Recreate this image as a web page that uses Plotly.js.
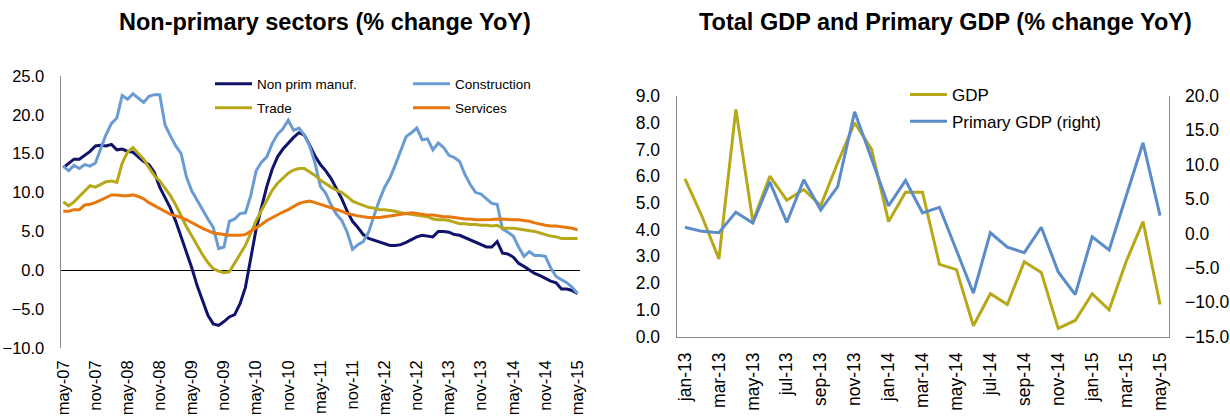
<!DOCTYPE html>
<html>
<head>
<meta charset="utf-8">
<script src="https://cdn.plot.ly/plotly-3.0.1.min.js"></script>
<style>
html,body{margin:0;padding:0;background:#fff;}
#chart{width:1230px;height:417px;}
</style>
</head>
<body>
<div id="chart"></div>
<script>
// ---------- Left chart: monthly, may-07 .. may-15 ----------
const monthNames = ['jan','feb','mar','apr','may','jun','jul','aug','sep','oct','nov','dec'];
function monthRange(startYear, startMonth, count) {
  const out = [];
  for (let k = 0; k < count; k++) {
    const m = (startMonth + k) % 12;
    const y = startYear + Math.floor((startMonth + k) / 12);
    out.push(monthNames[m] + '-' + String(y % 100).padStart(2, '0'));
  }
  return out;
}
const leftMonths = monthRange(2007, 4, 97);
const leftTicks = ['may-07','nov-07','may-08','nov-08','may-09','nov-09','may-10','nov-10','may-11','nov-11','may-12','nov-12','may-13','nov-13','may-14','nov-14','may-15'];

const nonPrimManuf = [13.2,13.8,14.3,14.3,14.8,15.3,16.0,16.1,16.0,16.2,15.5,15.6,15.3,15.2,14.6,14.0,13.6,12.6,10.7,9.3,
  8.0,6.3,4.3,2.2,0.3,-2.0,-4.0,-5.8,-6.9,-7.1,-6.6,-6.0,-5.7,-4.3,-2.2,1.8,5.3,8.1,10.8,13.0,
  14.6,15.6,16.4,17.1,17.7,17.4,16.1,14.7,13.6,12.8,11.8,10.5,9.2,7.6,6.3,5.5,4.6,4.1,3.9,3.6,
  3.4,3.2,3.2,3.3,3.6,4.0,4.3,4.5,4.4,4.3,5.0,5.0,4.9,4.6,4.5,4.2,3.9,3.7,3.4,3.0,
  3.0,3.7,2.2,2.1,1.7,0.9,0.5,0.0,-0.4,-0.7,-1.1,-1.4,-1.6,-2.4,-2.4,-2.6,-3.0];
const construction = [13.4,12.8,13.5,13.1,13.6,13.4,13.8,15.6,17.5,18.9,19.6,22.5,22.0,22.7,22.1,21.6,22.4,22.6,22.6,18.7,
  17.3,16.0,15.0,12.0,10.2,9.0,7.7,6.6,5.5,2.8,3.0,6.3,6.6,7.3,7.4,9.6,12.8,13.9,14.6,16.3,
  17.5,18.2,19.3,18.0,18.3,17.4,16.0,13.8,10.8,9.9,8.4,7.2,6.4,4.9,2.7,3.3,3.7,4.9,7.0,9.0,
  10.7,11.9,13.6,15.5,17.2,17.7,18.3,16.8,16.9,15.5,16.4,15.8,14.8,14.5,14.0,12.3,11.0,10.0,9.8,9.2,
  8.6,8.5,5.3,4.9,4.4,3.0,1.8,2.4,1.9,1.9,1.8,0.3,-0.8,-1.2,-1.6,-2.2,-3.0];
const trade = [8.8,8.3,8.8,9.5,10.1,10.9,10.7,11.1,11.4,11.5,11.3,13.8,15.2,15.8,15.1,14.3,13.2,12.2,11.5,10.6,
  9.6,8.4,6.9,5.6,4.4,3.1,2.0,1.0,0.2,-0.1,-0.3,-0.2,0.9,2.0,3.2,4.8,6.4,7.7,9.1,10.3,
  11.2,11.9,12.5,12.9,13.1,13.1,12.7,12.2,11.6,11.1,10.7,10.3,10.0,9.5,8.9,8.6,8.3,8.1,8.0,7.8,
  7.8,7.7,7.6,7.4,7.3,7.2,7.1,7.0,6.9,6.6,6.5,6.5,6.4,6.2,6.0,6.0,5.9,5.9,5.8,5.8,
  5.7,5.8,5.4,5.4,5.4,5.3,5.2,5.1,5.0,4.8,4.6,4.4,4.3,4.1,4.1,4.1,4.1];
const services = [7.6,7.6,7.8,7.8,8.4,8.5,8.7,9.0,9.4,9.7,9.7,9.6,9.6,9.7,9.5,9.2,8.7,8.3,7.9,7.5,
  7.2,7.0,6.8,6.5,6.1,5.7,5.4,5.1,4.8,4.7,4.6,4.5,4.5,4.5,4.6,5.0,5.4,5.9,6.4,6.8,
  7.1,7.5,7.8,8.2,8.6,8.8,8.9,8.7,8.5,8.3,8.1,7.8,7.6,7.3,7.1,7.0,6.9,6.8,6.8,6.8,
  6.9,7.0,7.1,7.2,7.3,7.4,7.3,7.2,7.1,7.1,7.0,6.9,6.9,6.8,6.7,6.6,6.6,6.5,6.5,6.5,
  6.55,6.6,6.55,6.55,6.5,6.5,6.4,6.3,6.1,5.9,5.8,5.7,5.7,5.6,5.5,5.4,5.2];

// ---------- Right chart: monthly, jan-13 .. may-15 ----------
const rightMonths = monthRange(2013, 0, 29);
const rightTicks = ['jan-13','mar-13','may-13','jul-13','sep-13','nov-13','jan-14','mar-14','may-14','jul-14','sep-14','nov-14','jan-15','mar-15','may-15'];
const gdp = [5.9,4.5,2.9,8.5,4.3,6.0,5.1,5.5,4.9,6.5,8.0,7.0,4.3,5.4,5.4,2.7,2.5,0.4,1.6,1.2,2.8,2.4,0.3,0.6,1.6,1.0,2.8,4.3,1.2];
const primaryGdp = [0.9,0.3,0.1,3.1,1.5,7.5,1.6,7.8,3.4,6.8,17.7,10.7,4.0,7.7,3.0,3.8,-2.4,-8.7,0.1,-2.0,-2.8,0.9,-5.6,-8.9,-0.5,-2.4,5.4,13.2,2.6];

const FONT = '"Liberation Sans", Arial, sans-serif';
const NAVY = '#10126b', LBLUE = '#6a9bd2', OLIVE = '#b7a81a', ORANGE = '#e8780e', BLUE2 = '#5b8cc9';
const AXC = '#8a8a8a';
const W = 1230, H = 417;
const px = v => v / W, py = v => 1 - v / H;

const traces = [
  {x: leftMonths, y: nonPrimManuf, name: 'Non prim manuf.', type: 'scatter', mode: 'lines', line: {color: NAVY, width: 3}, xaxis: 'x', yaxis: 'y', legend: 'legend'},
  {x: leftMonths, y: construction, name: 'Construction', type: 'scatter', mode: 'lines', line: {color: LBLUE, width: 3}, xaxis: 'x', yaxis: 'y', legend: 'legend'},
  {x: leftMonths, y: trade, name: 'Trade', type: 'scatter', mode: 'lines', line: {color: OLIVE, width: 3}, xaxis: 'x', yaxis: 'y', legend: 'legend2'},
  {x: leftMonths, y: services, name: 'Services', type: 'scatter', mode: 'lines', line: {color: ORANGE, width: 3}, xaxis: 'x', yaxis: 'y', legend: 'legend2'},
  {x: rightMonths, y: gdp, name: 'GDP', type: 'scatter', mode: 'lines', line: {color: OLIVE, width: 3}, xaxis: 'x2', yaxis: 'y2', legend: 'legend3'},
  {x: rightMonths, y: primaryGdp, name: 'Primary GDP (right)', type: 'scatter', mode: 'lines', line: {color: BLUE2, width: 3}, xaxis: 'x2', yaxis: 'y3', legend: 'legend4'}
];

const legendBase = {orientation: 'h', bgcolor: 'rgba(0,0,0,0)', borderwidth: 0, xanchor: 'left', yanchor: 'middle',
  entrywidthmode: 'pixels', tracegroupgap: 0, traceorder: 'normal'};

const layout = {
  width: W, height: H,
  margin: {l: 0, r: 0, t: 0, b: 0},
  paper_bgcolor: '#ffffff', plot_bgcolor: 'rgba(0,0,0,0)',
  font: {family: FONT, color: '#000', size: 16},
  showlegend: true,
  xaxis: {domain: [px(60.6), px(580.2)], type: 'category', range: [-0.5, 96.5], anchor: 'y',
    tickmode: 'array', tickvals: leftTicks, ticktext: leftTicks, tickangle: -90,
    tickfont: {size: 16.5, family: FONT, color: '#000'}, showline: false, showgrid: false, zeroline: false, ticks: '',
    ticklabelstandoff: 8},
  yaxis: {domain: [py(348), py(76)], range: [-10, 25], dtick: 5, tick0: 0, tickformat: '.1f', anchor: 'x',
    tickfont: {size: 16.5, family: FONT, color: '#000'}, showline: true, linecolor: AXC, linewidth: 1,
    showgrid: false, zeroline: true, zerolinecolor: '#000', zerolinewidth: 1, ticks: '', ticklabelstandoff: 12},
  xaxis2: {domain: [px(676.5), px(1168.5)], type: 'category', range: [-0.5, 28.5], anchor: 'y2',
    tickmode: 'array', tickvals: rightTicks, ticktext: rightTicks, tickangle: -90,
    tickfont: {size: 17.5, family: FONT, color: '#000'}, showline: true, linecolor: AXC, linewidth: 1,
    showgrid: false, zeroline: false, ticks: '', ticklabelstandoff: 8},
  yaxis2: {domain: [py(336.5), py(96)], range: [0, 9], dtick: 1, tick0: 0, tickformat: '.1f', anchor: 'x2',
    tickfont: {size: 17.5, family: FONT, color: '#000'}, showline: true, linecolor: AXC, linewidth: 1,
    showgrid: false, zeroline: false, ticks: '', ticklabelstandoff: 12},
  yaxis3: {overlaying: 'y2', side: 'right', range: [-15, 20], dtick: 5, tick0: 0, tickformat: '.1f', anchor: 'x2',
    tickfont: {size: 17.5, family: FONT, color: '#000'}, showline: true, linecolor: AXC, linewidth: 1,
    showgrid: false, zeroline: false, ticks: '', ticklabelstandoff: 12},
  legend: Object.assign({}, legendBase, {x: px(210), y: py(84), entrywidth: 146, itemwidth: 37, font: {size: 13.5, family: FONT, color: '#000'}}),
  legend2: Object.assign({}, legendBase, {x: px(210), y: py(108), entrywidth: 146, itemwidth: 37, font: {size: 13.5, family: FONT, color: '#000'}}),
  legend3: Object.assign({}, legendBase, {x: px(905), y: py(95), entrywidth: 250, itemwidth: 37, font: {size: 17, family: FONT, color: '#000'}}),
  legend4: Object.assign({}, legendBase, {x: px(905), y: py(121.7), entrywidth: 250, itemwidth: 37, font: {size: 17, family: FONT, color: '#000'}}),
  annotations: [
    {text: '<b>Non-primary sectors (% change YoY)</b>', xref: 'paper', yref: 'paper', x: px(325), y: py(22),
      xanchor: 'center', yanchor: 'middle', showarrow: false, font: {size: 23.5, family: FONT, color: '#000'}},
    {text: '<b>Total GDP and Primary GDP (% change YoY)</b>', xref: 'paper', yref: 'paper', x: px(945), y: py(22),
      xanchor: 'center', yanchor: 'middle', showarrow: false, font: {size: 23.5, family: FONT, color: '#000'}}
  ]
};

Plotly.newPlot('chart', traces, layout, {displayModeBar: false, staticPlot: true});
</script>
</body>
</html>
